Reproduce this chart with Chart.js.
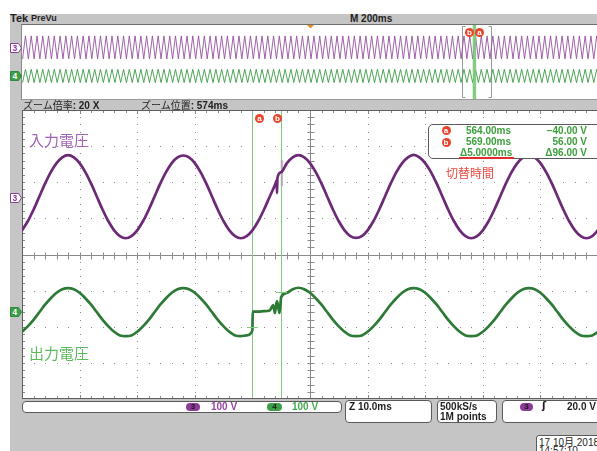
<!DOCTYPE html>
<html><head><meta charset="utf-8">
<script src="https://cdn.jsdelivr.net/npm/chart.js@4.4.1/dist/chart.umd.min.js"></script>
<style>
html,body{margin:0;padding:0;background:#fff;width:597px;height:451px;overflow:hidden;position:relative;font-family:"Liberation Sans",Arial,sans-serif;}
.a{position:absolute;white-space:nowrap;}
.b{font-weight:bold;font-size:10px;line-height:10px;}
.jp{font-family:"Noto Sans CJK JP",sans-serif;}
.box{position:absolute;box-sizing:border-box;background:#fff;border:1px solid #5a5a5a;border-radius:4px;}
.cl{position:absolute;width:9px;height:9px;border-radius:50%;background:#e8452c;color:#fff;font:bold 8px/9px "Liberation Sans",sans-serif;text-align:center;}
.pill{position:absolute;height:8px;border-radius:4px;font:bold 8px/8px "Liberation Sans",sans-serif;text-align:center;color:#1a1a1a;}
canvas{position:absolute;}
</style>
</head><body>
<div class="a" style="left:10px;top:14px;width:600px;height:440px;background:#c5c5c5;"></div>
<div class="a" style="left:10px;top:13px;font:bold 11px/11px 'Liberation Sans';color:#1e1e1e;">Tek</div>
<div class="a" style="left:31px;top:14px;font:bold 9px/9px 'Liberation Sans';color:#1e1e1e;">PreVu</div>
<div class="a b" style="left:350px;top:13.5px;color:#1e1e1e;">M 200ms</div>

<div class="a" style="left:22px;top:24px;width:590px;height:74px;background:#fff;border-top:1px solid #6e6e6e;border-left:1px solid #8a8a8a;border-bottom:1px solid #9a9a9a;box-sizing:content-box;margin-left:-1px;"></div>
<canvas id="ov" width="577" height="74" style="left:22px;top:25px;width:577px;height:74px;"></canvas>

<div class="a" style="left:23px;top:99.5px;font-size:10px;line-height:10px;color:#222;"><span class="jp">ズーム倍率</span><b>: 20 X</b></div>
<div class="a" style="left:141px;top:99.5px;font-size:10px;line-height:10px;color:#222;"><span class="jp">ズーム位置</span><b>: 574ms</b></div>

<div class="a" style="left:22px;top:110px;width:590px;height:289px;background:#fff;"></div>
<canvas id="main" width="576" height="289" style="left:22px;top:110px;width:576px;height:289px;"></canvas>

<!-- channel markers -->
<svg class="a" style="left:10px;top:43px" width="12" height="10"><polygon points="0.5,0.5 8.5,0.5 11.5,5 8.5,9.5 0.5,9.5" fill="#fff" stroke="#8a3c96"/><text x="4.8" y="8.3" font-size="8.5" font-family="Liberation Sans" font-weight="bold" fill="#8a3c96" text-anchor="middle">3</text></svg>
<svg class="a" style="left:10px;top:71px" width="12" height="10"><polygon points="0.5,0.5 8.5,0.5 11.5,5 8.5,9.5 0.5,9.5" fill="#3c9e46" stroke="#2f8a3a"/><text x="4.8" y="8.3" font-size="8.5" font-family="Liberation Sans" font-weight="bold" fill="#fff" text-anchor="middle">4</text></svg>
<svg class="a" style="left:10px;top:193px" width="12" height="10"><polygon points="0.5,0.5 8.5,0.5 11.5,5 8.5,9.5 0.5,9.5" fill="#fff" stroke="#8a3c96"/><text x="4.8" y="8.3" font-size="8.5" font-family="Liberation Sans" font-weight="bold" fill="#8a3c96" text-anchor="middle">3</text></svg>
<svg class="a" style="left:10px;top:307px" width="12" height="10"><polygon points="0.5,0.5 8.5,0.5 11.5,5 8.5,9.5 0.5,9.5" fill="#3c9e46" stroke="#2f8a3a"/><text x="4.8" y="8.3" font-size="8.5" font-family="Liberation Sans" font-weight="bold" fill="#fff" text-anchor="middle">4</text></svg>

<!-- cursor labels -->
<div class="cl" style="left:465px;top:27.5px;">b</div>
<div class="cl" style="left:475px;top:27.5px;">a</div>
<div class="cl" style="left:255px;top:113.5px;">a</div>
<div class="cl" style="left:273px;top:113.5px;">b</div>

<div class="a jp" style="left:29px;top:131px;font-size:15px;line-height:18px;color:rgb(160,100,180);">入力電圧</div>
<div class="a jp" style="left:29px;top:344px;font-size:15px;line-height:18px;color:rgb(95,185,95);">出力電圧</div>

<!-- readout -->
<div class="box" style="left:428px;top:124px;width:180px;height:35px;border-radius:5px;"></div>
<div class="cl" style="left:441.5px;top:126px;">a</div>
<div class="cl" style="left:441.5px;top:137.5px;">b</div>
<div class="a b" style="left:466px;top:126px;color:rgb(60,160,60);">564.00ms</div>
<div class="a b" style="left:530px;top:126px;width:57px;text-align:right;color:rgb(60,160,60);">−40.00 V</div>
<div class="a b" style="left:466px;top:137px;color:rgb(60,160,60);">569.00ms</div>
<div class="a b" style="left:530px;top:137px;width:57px;text-align:right;color:rgb(60,160,60);">56.00 V</div>
<div class="a b" style="left:460px;top:147.5px;color:rgb(60,160,60);">Δ5.0000ms</div>
<div class="a b" style="left:530px;top:147.5px;width:57px;text-align:right;color:rgb(60,160,60);">Δ96.00 V</div>
<div class="a" style="left:459px;top:156.5px;width:55px;height:2px;background:rgb(225,45,45);"></div>
<div class="a jp" style="left:446px;top:165px;font-size:12px;line-height:15px;color:rgb(235,75,65);">切替時間</div>

<!-- status boxes -->
<div class="box" style="left:22px;top:401px;width:320px;height:12px;"></div>
<div class="pill" style="left:186px;top:403px;width:14px;background:#8a3c96;">3</div>
<div class="a b" style="left:211px;top:402px;color:rgb(150,70,165);">100 V</div>
<div class="pill" style="left:267px;top:403px;width:15px;background:#3c9e46;">4</div>
<div class="a b" style="left:292px;top:402px;color:rgb(70,170,80);">100 V</div>
<div class="box" style="left:345px;top:400px;width:87px;height:23px;"></div>
<div class="a b" style="left:349px;top:401.5px;color:#1e1e1e;">Z 10.0ms</div>
<div class="box" style="left:437px;top:400px;width:60px;height:23px;"></div>
<div class="a b" style="left:440px;top:401.5px;color:#1e1e1e;">500kS/s</div>
<div class="a b" style="left:440px;top:412px;color:#1e1e1e;">1M points</div>
<div class="box" style="left:502px;top:400px;width:110px;height:23px;"></div>
<div class="pill" style="left:520px;top:403px;width:13px;background:#8a3c96;">3</div>
<div class="a" style="left:542px;top:401px;font:bold 10px/10px 'DejaVu Sans';color:#1e1e1e;">ʃ</div>
<div class="a b" style="left:567px;top:401.5px;color:#1e1e1e;">20.0 V</div>
<div class="box" style="left:536px;top:435px;width:75px;height:22px;border-radius:3px;"></div>
<div class="a" style="left:539px;top:436.5px;font-size:10px;line-height:10px;color:#1e1e1e;">17 10<span class="jp">月</span> 2018</div>
<div class="a" style="left:539px;top:446px;font-size:10px;line-height:10px;color:#1e1e1e;">14:57:10</div>

<script>
// ---- main (zoom) window: 1 ms samples starting at 524 ms ----
const mainStartMs = 524;
const mainStepMs = 1;
const msPerDiv = 10;
const cursorTimesMs = [564, 569];
const cursorLevelsCh4 = [-40, 56];
const zoomWindowMs = [524, 624];

// ch3 input voltage (V)
const inputVolts = [
 -90,-65,-33,3,39,71,96,112,
 118,112,96,71,39,3,-33,-65,-90,-106,-112,-106,-90,-65,-33,3,39,71,96,112,
 117,112,96,71,39,3,-33,-65,-90,-106,-112,-106,-90,-65,-33,3,39,71,96,112,
 118,112,96,71,39,3,-33,-65,-90,-106,-111,-106,-90,-65,-33,3,39,71,96,112,
 119,112,96,71,39,3,-33,-65,-90,-106,-112,-106,-90,-65,-33,3,39,71,96,112,
 118,112,96,71,39,3,-33,-65,-90,-106,-112,-106,-90
];
const inputGlitchMs = [568.2, 568.27, 568.35];
const inputGlitchVolts = [48, 13, 55];
const probeSpikeMs = [569.1, 569.1];
const probeSpikeVolts = [104, 32];

// ch4 output voltage (V)
const outputVolts = [
 -54,-39,-21,0,21,39,54,64,
 67,64,54,39,21,0,-21,-39,-54,-64,-66,-64,-54,-39,-21,0,21,39,54,64,
 67,64,54,39,21,0,-21,-39,-54,-64,-66,-64,
 -50,2,3,5,7,42,54,64,
 68,64,54,39,21,0,-21,-39,-54,-64,-66,-64,-54,-39,-21,0,21,39,54,64,
 67,64,54,39,21,0,-21,-39,-54,-64,-66,-64,-54,-39,-21,0,21,39,54,64,
 67,64,54,39,21,0,-21,-39,-54,-64,-66,-64,-54
];
const outputGlitchMs = [564.05, 567.6, 567.9, 568.27, 568.7];
const outputGlitchVolts = [2, 20, -2, 31, -2];

// ---- overview (PreVu) window: peak/trough samples every 10 ms ----
const ovStartMs = -998;
const ovStepMs = 10;
const ovInputVolts = [
-112,118,-112,118,-112,118,-112,118,-112,118,-112,118,-112,118,-112,118,-112,118,-112,118,
-112,118,-112,118,-112,118,-112,118,-112,118,-112,118,-112,118,-112,118,-112,118,-112,118,
-112,118,-112,118,-112,118,-112,118,-112,118,-112,118,-112,118,-112,118,-112,118,-112,118,
-112,118,-112,118,-112,118,-112,118,-112,118,-112,118,-112,118,-112,118,-112,118,-112,118,
-112,118,-112,118,-112,118,-112,118,-112,118,-112,118,-112,118,-112,118,-112,118,-112,118,
-112,118,-112,118,-112,118,-112,118,-112,118,-112,118,-112,118,-112,118,-112,118,-112,118,
-112,118,-112,118,-112,118,-112,118,-112,118,-112,118,-112,118,-112,118,-112,118,-112,118,
-112,118,-112,118,-112,118,-112,118,-112,118,-112,118,-112,118,-112,118,-112,118,-112,118,
-112,118,-112,118,-112,118,-112,118,-112,118,-112,118,-112,118,-112,118,-112,118,-112,118,
-112,118,-112,118,-112,118,-112,118,-112,118,-112,118,-112,118,-112,118,-112,118,-112,118,
-112];
const ovOutputVolts = [
-66,67,-66,67,-66,67,-66,67,-66,67,-66,67,-66,67,-66,67,-66,67,-66,67,
-66,67,-66,67,-66,67,-66,67,-66,67,-66,67,-66,67,-66,67,-66,67,-66,67,
-66,67,-66,67,-66,67,-66,67,-66,67,-66,67,-66,67,-66,67,-66,67,-66,67,
-66,67,-66,67,-66,67,-66,67,-66,67,-66,67,-66,67,-66,67,-66,67,-66,67,
-66,67,-66,67,-66,67,-66,67,-66,67,-66,67,-66,67,-66,67,-66,67,-66,67,
-66,67,-66,67,-66,67,-66,67,-66,67,-66,67,-66,67,-66,67,-66,67,-66,67,
-66,67,-66,67,-66,67,-66,67,-66,67,-66,67,-66,67,-66,67,-66,67,-66,67,
-66,67,-66,67,-66,67,-66,67,-66,67,-66,67,-66,67,-66,67,-66,67,-66,67,
-66,67,-66,67,-66,67,-66,67,-66,67,-66,67,-66,67,-66,67,-66,67,-66,67,
-66,67,-66,67,-66,67,-66,67,-66,67,-66,67,-66,67,-66,67,-66,67,-66,67,
-66];

function series(start, step, vals, extraT, extraV){
  const pts = vals.map((v,i)=>({x:start+i*step, y:v}));
  (extraT||[]).forEach((t,i)=>pts.push({x:t, y:extraV[i]}));
  return pts.sort((p,q)=>p.x-q.x);
}
function pairs(ts, vs){ return ts.map((t,i)=>({x:t,y:vs[i]})); }

const PURPLE_D='rgb(108,42,118)', PURPLE_L='rgb(150,85,160)';
const GREEN_D='rgb(45,122,55)', GREEN_L='rgb(100,180,100)';
const CURSOR='rgb(125,205,125)';

const gratPlugin = {
  id:'grat',
  beforeDatasetsDraw(chart){
    const {ctx, chartArea:a, scales} = chart;
    const x = scales.x, yd = scales.yDiv;
    ctx.save();
    ctx.fillStyle = '#8e8e8e';
    for (let d=1; d<10; d++){ if (d===5) continue;
      const px = Math.round(x.getPixelForValue(mainStartMs + d*msPerDiv));
      for (let m=-20; m<=20; m++){ ctx.fillRect(px, Math.round(yd.getPixelForValue(m/5)), 1, 1); }
    }
    for (let d=-3; d<=3; d++){ if (d===0) continue;
      const py = Math.round(yd.getPixelForValue(d));
      for (let m=0; m<=50; m++){ ctx.fillRect(Math.round(x.getPixelForValue(mainStartMs + m*msPerDiv/5)), py, 1, 1); }
    }
    const cx = Math.round(x.getPixelForValue(mainStartMs + 5*msPerDiv)) + 0.5;
    const cy = Math.round(yd.getPixelForValue(0)) + 0.5;
    ctx.strokeStyle = '#8a8a8a'; ctx.lineWidth = 1;
    ctx.beginPath();
    ctx.moveTo(cx, a.top); ctx.lineTo(cx, a.bottom);
    ctx.moveTo(a.left, cy); ctx.lineTo(a.right, cy);
    for (let m=0; m<=50; m++){
      const px = Math.round(x.getPixelForValue(mainStartMs + m*msPerDiv/5)) + 0.5;
      const L = (m%5===0)?4:3;
      ctx.moveTo(px, cy-3); ctx.lineTo(px, cy+4);
      ctx.moveTo(px, a.top); ctx.lineTo(px, a.top+L);
      ctx.moveTo(px, a.bottom); ctx.lineTo(px, a.bottom-L);
    }
    for (let m=-20; m<=20; m++){
      const py = Math.round(yd.getPixelForValue(m/5)) + 0.5;
      ctx.moveTo(cx-3, py); ctx.lineTo(cx+4, py);
      ctx.moveTo(a.left, py); ctx.lineTo(a.left+3, py);
    }
    ctx.stroke();
    ctx.strokeStyle = '#5e5e5e';
    ctx.beginPath();
    ctx.moveTo(a.left+0.5, a.top); ctx.lineTo(a.left+0.5, a.bottom);
    ctx.moveTo(a.left, a.top+0.5); ctx.lineTo(a.right, a.top+0.5);
    ctx.moveTo(a.left, a.bottom-0.5); ctx.lineTo(a.right, a.bottom-0.5);
    ctx.stroke();
    ctx.strokeStyle = CURSOR;
    ctx.beginPath();
    cursorTimesMs.forEach(t=>{ const px = Math.round(x.getPixelForValue(t))+0.5; ctx.moveTo(px, a.top+1); ctx.lineTo(px, a.bottom-1); });
    ctx.stroke();
    ctx.restore();
  },
  afterDatasetsDraw(chart){
    const {ctx, scales} = chart;
    ctx.save();
    ctx.strokeStyle = CURSOR; ctx.lineWidth = 1;
    ctx.beginPath();
    cursorTimesMs.forEach((t,i)=>{
      const px = Math.round(scales.x.getPixelForValue(t));
      const py = Math.round(scales.y4.getPixelForValue(cursorLevelsCh4[i]))+0.5;
      ctx.moveTo(px-5, py); ctx.lineTo(px+6, py);
    });
    ctx.stroke();
    ctx.restore();
  }
};

const inputData = series(mainStartMs, mainStepMs, inputVolts, inputGlitchMs, inputGlitchVolts);
const outputData = series(mainStartMs, mainStepMs, outputVolts, outputGlitchMs, outputGlitchVolts);
const lineDs = (data, color, w, axis) => ({data, borderColor:color, borderWidth:w, yAxisID:axis, pointRadius:0, cubicInterpolationMode:'monotone', fill:false});

new Chart(document.getElementById('main'), {
  type:'line',
  data:{ datasets:[
    lineDs(inputData, PURPLE_D, 2.7, 'y3'),
    lineDs(inputData, PURPLE_L, 0.8, 'y3'),
    lineDs(pairs(probeSpikeMs, probeSpikeVolts), 'rgb(170,170,170)', 2, 'y3'),
    lineDs(outputData, GREEN_D, 2.7, 'y4'),
    lineDs(outputData, GREEN_L, 0.8, 'y4')
  ]},
  options:{
    responsive:false, animation:false, devicePixelRatio:1,
    layout:{padding:0},
    plugins:{legend:{display:false}, tooltip:{enabled:false}},
    scales:{
      x:{type:'linear', min:zoomWindowMs[0], max:zoomWindowMs[1], display:false},
      y3:{type:'linear', min:-557, max:243, display:false},
      y4:{type:'linear', min:-240, max:560, display:false},
      yDiv:{type:'linear', min:-4, max:4, display:false}
    }
  },
  plugins:[gratPlugin]
});

const ovPlugin = {
  id:'ovdeco',
  beforeDatasetsDraw(chart){
    const {ctx, chartArea:a, scales:{x}} = chart;
    ctx.save();
    ctx.strokeStyle = '#9a9a9a'; ctx.lineWidth = 1;
    const l = Math.round(x.getPixelForValue(zoomWindowMs[0]))+0.5;
    const r = Math.round(x.getPixelForValue(zoomWindowMs[1]))+0.5;
    ctx.beginPath();
    ctx.moveTo(l+3, a.top+1.5); ctx.lineTo(l, a.top+1.5); ctx.lineTo(l, a.bottom-1.5); ctx.lineTo(l+3, a.bottom-1.5);
    ctx.moveTo(r-3, a.top+1.5); ctx.lineTo(r, a.top+1.5); ctx.lineTo(r, a.bottom-1.5); ctx.lineTo(r-3, a.bottom-1.5);
    ctx.stroke();
    ctx.restore();
  },
  afterDatasetsDraw(chart){
    const {ctx, chartArea:a, scales:{x}} = chart;
    ctx.save();
    ctx.strokeStyle = 'rgba(120,200,120,0.9)'; ctx.lineWidth = 2;
    ctx.beginPath();
    cursorTimesMs.forEach(t=>{ const px = x.getPixelForValue(t)+0.5; ctx.moveTo(px, a.top); ctx.lineTo(px, a.bottom); });
    ctx.stroke();
    const tx = x.getPixelForValue(0);
    ctx.fillStyle = 'rgb(240,140,40)';
    ctx.beginPath(); ctx.moveTo(tx-3.5, 0); ctx.lineTo(tx+3.5, 0); ctx.lineTo(tx, 3.5); ctx.closePath(); ctx.fill();
    ctx.restore();
  }
};

new Chart(document.getElementById('ov'), {
  type:'line',
  data:{ datasets:[
    {data:series(ovStartMs, ovStepMs, ovInputVolts), borderColor:'rgb(150,80,160)', borderWidth:0.9, yAxisID:'y3', pointRadius:0, tension:0},
    {data:series(ovStartMs, ovStepMs, ovOutputVolts), borderColor:'rgb(60,155,70)', borderWidth:0.9, yAxisID:'y4', pointRadius:0, tension:0}
  ]},
  options:{
    responsive:false, animation:false, devicePixelRatio:1,
    layout:{padding:0},
    plugins:{legend:{display:false}, tooltip:{enabled:false}},
    scales:{
      x:{type:'linear', min:-1000, max:1000, display:false},
      y3:{type:'linear', min:-513, max:227, display:false},
      y4:{type:'linear', min:-230, max:510, display:false}
    }
  },
  plugins:[ovPlugin]
});
</script>
</body></html>
